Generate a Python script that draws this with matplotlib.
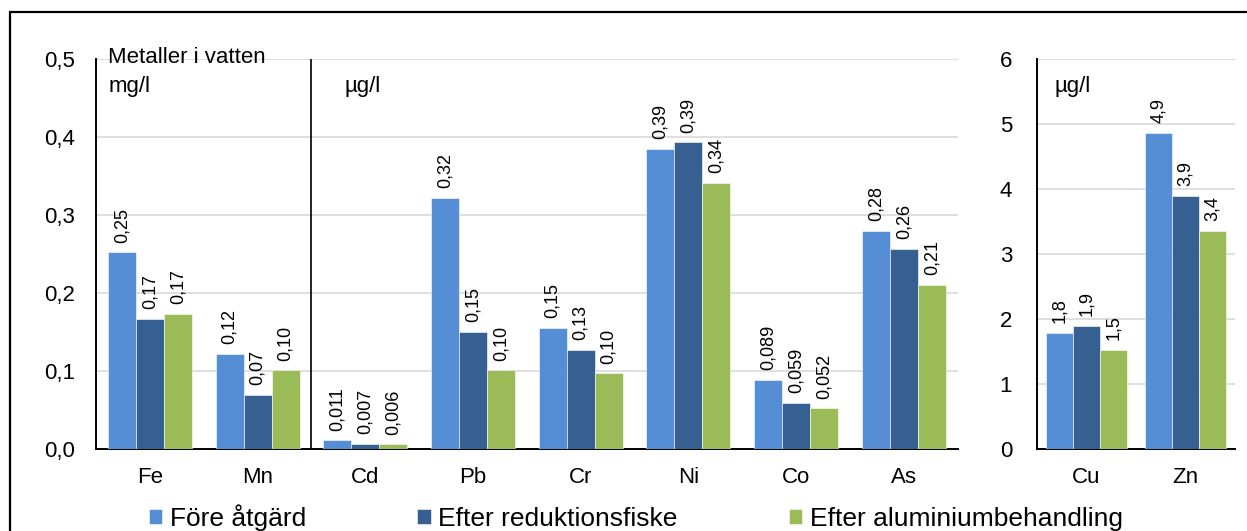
import matplotlib
matplotlib.use("Agg")
import matplotlib.pyplot as plt
from matplotlib.patches import Rectangle
from matplotlib.ticker import FuncFormatter
import numpy as np

plt.rcParams["font.family"] = ["Liberation Sans", "DejaVu Sans"]

# Metals in water, three sampling occasions
series_names = ["Före åtgärd", "Efter reduktionsfiske", "Efter aluminiumbehandling"]
colors = ["#558ED5", "#376092", "#9BBB59"]

left_cats = ["Fe", "Mn", "Cd", "Pb", "Cr", "Ni", "Co", "As"]
left_decimals = [2, 2, 3, 2, 2, 2, 3, 2]
fore_left = [0.252, 0.122, 0.011, 0.322, 0.155, 0.385, 0.089, 0.280]
reduk_left = [0.167, 0.069, 0.007, 0.150, 0.127, 0.393, 0.059, 0.257]
alu_left = [0.173, 0.101, 0.006, 0.101, 0.097, 0.341, 0.052, 0.210]

right_cats = ["Cu", "Zn"]
right_decimals = [1, 1]
fore_right = [1.79, 4.86]
reduk_right = [1.90, 3.90]
alu_right = [1.52, 3.36]

FS = 16


def comma(v, dec):
    return f"{v:.{dec}f}".replace(".", ",")


def draw_group(ax, cats, series, decimals, width):
    x = np.arange(len(cats))
    bars = []
    for k, (vals, col) in enumerate(zip(series, colors)):
        pos = x + (k - 1) * width
        b = ax.bar(pos, vals, width, color=col, edgecolor="white",
                   linewidth=0.4, zorder=3, label=series_names[k])
        bars.append(b)
        for xi, v, d in zip(pos, vals, decimals):
            ax.annotate(comma(v, d), (xi, v), xytext=(0, 7),
                        textcoords="offset points", rotation=90,
                        ha="center", va="bottom", fontsize=13)
    ax.set_xticks(x)
    ax.set_xticklabels(cats, fontsize=FS)
    ax.set_xlim(-0.5, len(cats) - 0.5)
    ax.tick_params(axis="both", length=0)
    ax.tick_params(axis="x", pad=13)
    ax.grid(axis="y", color="#D9D9D9", linewidth=1.2, zorder=0)
    for s in ("top", "right"):
        ax.spines[s].set_visible(False)
    ax.spines["left"].set_linewidth(1.4)
    ax.spines["bottom"].set_linewidth(1.4)
    return bars


fig = plt.figure(figsize=(12.47, 5.31), dpi=100)

ax1 = fig.add_axes([0.077, 0.1544, 0.691, 0.7345])
bars = draw_group(ax1, left_cats, [fore_left, reduk_left, alu_left], left_decimals, 0.26)
ax1.set_ylim(0, 0.5)
ax1.set_yticks(np.arange(0, 0.51, 0.1))
ax1.yaxis.set_major_formatter(FuncFormatter(lambda v, p: comma(v, 1)))
ax1.tick_params(axis="y", labelsize=FS, pad=15)
ax1.axvline(1.5, color="black", linewidth=1.2, zorder=4)
ax1.text(0.014, 1.005, "Metaller i vatten", transform=ax1.transAxes,
         fontsize=FS, va="center", ha="left")
ax1.text(0.014, 0.93, "mg/l", transform=ax1.transAxes,
         fontsize=FS, va="center", ha="left")
ax1.text(0.288, 0.93, "µg/l", transform=ax1.transAxes,
         fontsize=FS, va="center", ha="left")

ax2 = fig.add_axes([0.8316, 0.1544, 0.1588, 0.7345])
draw_group(ax2, right_cats, [fore_right, reduk_right, alu_right], right_decimals, 0.27)
ax2.set_ylim(0, 6)
ax2.set_yticks(np.arange(0, 7, 1))
ax2.tick_params(axis="y", labelsize=FS, pad=18)
ax2.text(0.09, 0.93, "µg/l", transform=ax2.transAxes,
         fontsize=FS, va="center", ha="left")

fig.legend(handles=bars, labels=series_names, loc="center",
           bbox_to_anchor=(0.51, 0.026), ncol=3, frameon=False,
           fontsize=19, handlelength=0.5, handleheight=0.5,
           handletextpad=0.3, columnspacing=4.2)

# chart frame
fig.patches.append(Rectangle((10 / 1247, -0.1), 1.2, 1.1 - 12 / 531,
                             transform=fig.transFigure, fill=False,
                             edgecolor="black", linewidth=1.6))

fig.savefig("out.png", dpi=100)
